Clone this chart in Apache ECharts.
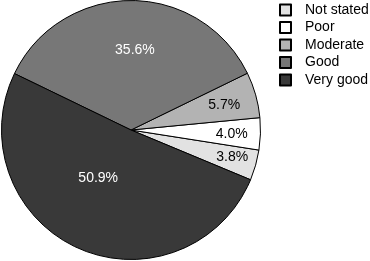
<!DOCTYPE html>
<html><head><meta charset="utf-8">
<script src="https://cdn.jsdelivr.net/npm/echarts@6/dist/echarts.min.js"></script>
<style>html,body{margin:0;padding:0;background:#fff}#c{width:370px;height:261px}</style>
</head><body><div id="c"></div>
<script>
const categories = ['Not stated', 'Poor', 'Moderate', 'Good', 'Very good'];
const values = [3.8, 4.0, 5.7, 35.6, 50.9];
const colors = ['#e2e2e2', '#ffffff', '#b3b3b3', '#777777', '#393939'];
const labelColors = ['#000', '#000', '#000', '#fff', '#fff'];
const labelOffsets = [[36, 9], [33, 2], [28, -6], [4, -12], [-5, -14]];

const chart = echarts.init(document.getElementById('c'), null, {renderer: 'canvas'});
chart.setOption({
  animation: false,
  legend: {
    data: categories,
    orient: 'vertical',
    left: 274, top: -2,
    itemWidth: 11, itemHeight: 11, itemGap: 3.5,
    icon: 'rect',
    selectedMode: false,
    textStyle: {fontFamily: 'Liberation Sans', fontSize: 14, color: '#000', padding: [0, 0, 0, 9]}
  },
  series: [{
    type: 'pie',
    center: [131, 130],
    radius: [0, 129.5],
    startAngle: -22.6,
    clockwise: false,
    avoidLabelOverlap: false,
    itemStyle: {borderColor: '#000', borderWidth: 1},
    label: {show: true, position: 'inside', fontFamily: 'Liberation Sans', fontSize: 14},
    labelLine: {show: false},
    emphasis: {disabled: true},
    data: categories.map((n, i) => ({
      name: n, value: values[i],
      itemStyle: {color: colors[i]},
      label: {color: labelColors[i], offset: labelOffsets[i], formatter: values[i].toFixed(1) + '%'}
    }))
  }]
});
</script></body></html>
